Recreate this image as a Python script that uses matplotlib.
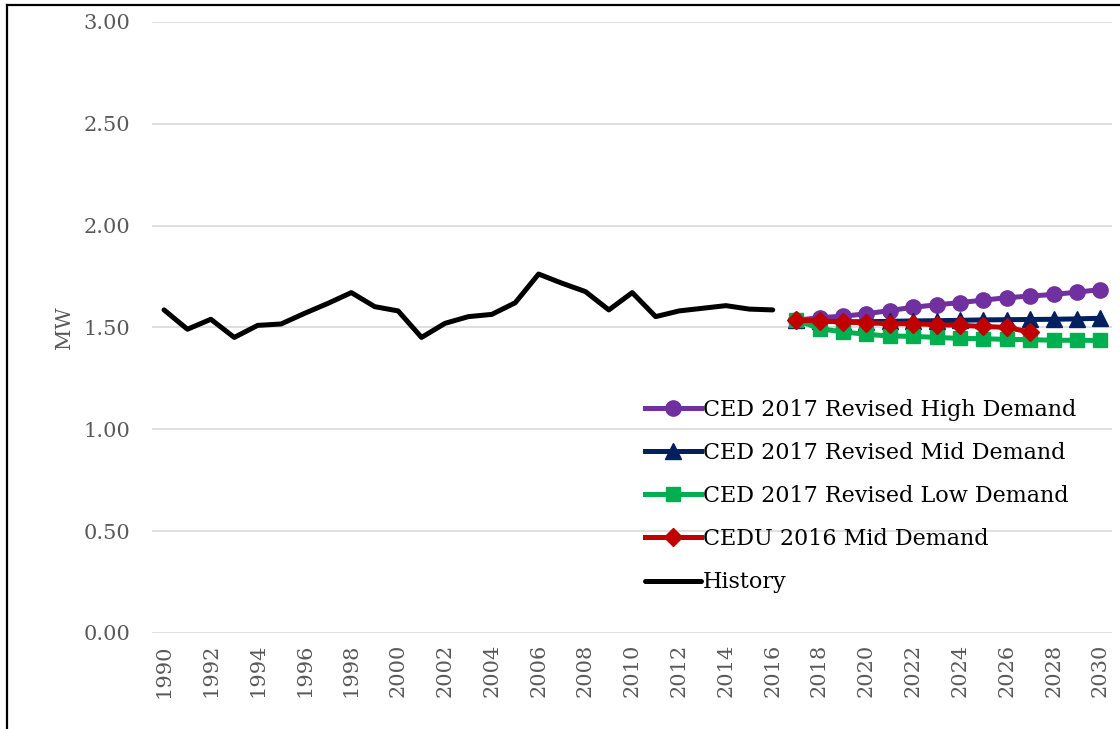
import matplotlib
matplotlib.use("Agg")
import matplotlib.pyplot as plt
from matplotlib.lines import Line2D

# ----- data -----
hist_years = list(range(1990, 2017))
history = [1.586, 1.491, 1.540, 1.451, 1.510, 1.517, 1.569, 1.618, 1.671, 1.602,
           1.581, 1.451, 1.520, 1.553, 1.564, 1.621, 1.762, 1.717, 1.676, 1.586,
           1.671, 1.553, 1.581, 1.594, 1.607, 1.590, 1.586]

fc_years = list(range(2017, 2031))
high = [1.535, 1.548, 1.555, 1.567, 1.583, 1.599, 1.611, 1.622, 1.634, 1.646,
        1.654, 1.662, 1.673, 1.686]
mid = [1.535, 1.530, 1.528, 1.528, 1.530, 1.532, 1.533, 1.535, 1.537, 1.538,
       1.539, 1.540, 1.542, 1.545]
low = [1.537, 1.494, 1.478, 1.466, 1.458, 1.456, 1.451, 1.446, 1.445, 1.441,
       1.440, 1.437, 1.437, 1.436]

cedu_years = list(range(2017, 2028))
cedu = [1.536, 1.532, 1.527, 1.522, 1.519, 1.518, 1.514, 1.510, 1.505, 1.500, 1.477]

year_ticks = list(range(1990, 2031, 2))
y_ticks = [0.0, 0.5, 1.0, 1.5, 2.0, 2.5, 3.0]

# ----- figure -----
plt.rcParams['font.family'] = ['DejaVu Serif']
fig = plt.figure(figsize=(11.2, 7.29), dpi=100)
ax = fig.add_axes([0.136, 0.1317, 0.857, 0.8383])

ax.plot(fc_years, high, color="#7030A0", linewidth=3.6, marker="o", markersize=11,
        label="CED 2017 Revised High Demand")
ax.plot(fc_years, mid, color="#002060", linewidth=3.6, marker="^", markersize=11,
        label="CED 2017 Revised Mid Demand")
ax.plot(fc_years, low, color="#00B050", linewidth=3.6, marker="s", markersize=10.5,
        label="CED 2017 Revised Low Demand")
ax.plot(cedu_years, cedu, color="#C00000", linewidth=3.6, marker="D", markersize=9,
        label="CEDU 2016 Mid Demand")
ax.plot(hist_years, history, color="black", linewidth=3.6, solid_capstyle="round",
        label="History")

ax.set_xlim(1989.5, 2030.5)
ax.set_ylim(0, 3)
ax.set_yticks(y_ticks)
ax.set_yticklabels([f"{v:.2f}" for v in y_ticks])
ax.set_xticks(year_ticks)
ax.set_xticklabels([str(y) for y in year_ticks], rotation=90)
ax.tick_params(axis="both", length=0, labelsize=15, labelcolor="#595959")
ax.tick_params(axis="y", pad=16)
ax.tick_params(axis="x", pad=8)
ax.grid(axis="y", color="#D9D9D9", linewidth=1.2)
ax.set_axisbelow(True)
for s in ax.spines.values():
    s.set_visible(False)

ax.set_ylabel("MW", fontsize=15, color="#595959", labelpad=7)

ax.legend(loc="upper left", bbox_to_anchor=(0.566, 0.468), bbox_transform=fig.transFigure,
          frameon=False, fontsize=16, handlelength=2.5, handletextpad=0.1,
          labelspacing=0.95, borderpad=0)

# outer frame visible on left and top of the crop
fig.add_artist(Line2D([0.0065, 0.0065], [0, 0.993], color="black", linewidth=1.6,
                      transform=fig.transFigure))
fig.add_artist(Line2D([0.0065, 1.0], [0.993, 0.993], color="black", linewidth=1.6,
                      transform=fig.transFigure))

fig.savefig("out.png", dpi=100)
